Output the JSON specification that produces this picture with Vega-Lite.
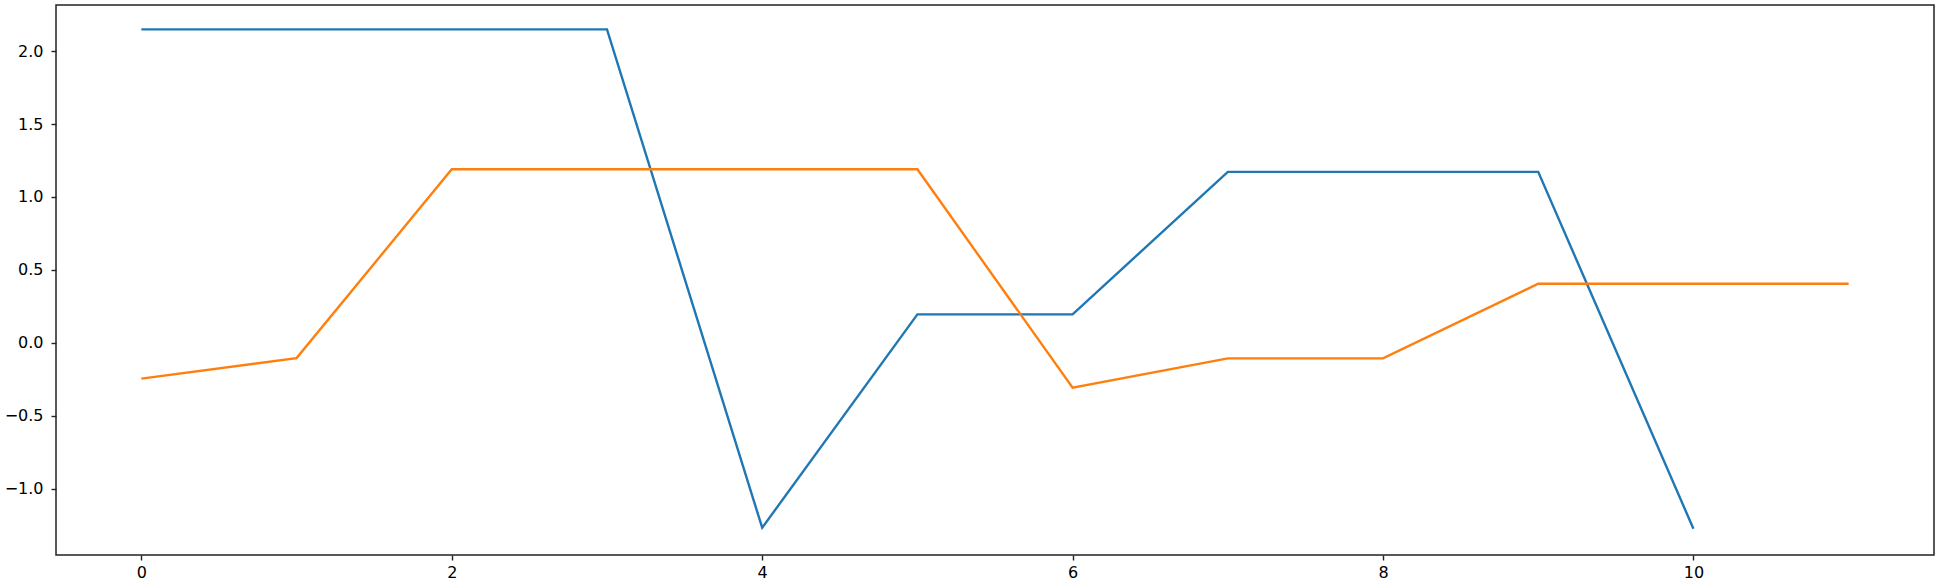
{
  "$schema": "https://vega.github.io/schema/vega-lite/v6.json",
  "width": 1878,
  "height": 550,
  "autosize": {"type": "none"},
  "padding": {"left": 56, "top": 5, "right": 6, "bottom": 29},
  "background": "white",
  "config": {
    "view": {"stroke": "#222222", "strokeWidth": 1.5},
    "font": "DejaVu Sans",
    "axis": {
      "grid": false,
      "domain": false,
      "tickColor": "#222222",
      "tickSize": 5,
      "tickWidth": 1.4,
      "labelFont": "DejaVu Sans",
      "labelFontSize": 16,
      "labelColor": "#000000",
      "title": null
    }
  },
  "data": {
    "values": [
      {"x": 0, "y": 2.149, "s": "a"},
      {"x": 1, "y": 2.149, "s": "a"},
      {"x": 2, "y": 2.149, "s": "a"},
      {"x": 3, "y": 2.149, "s": "a"},
      {"x": 4, "y": -1.268, "s": "a"},
      {"x": 5, "y": 0.195, "s": "a"},
      {"x": 6, "y": 0.195, "s": "a"},
      {"x": 7, "y": 1.172, "s": "a"},
      {"x": 8, "y": 1.172, "s": "a"},
      {"x": 9, "y": 1.172, "s": "a"},
      {"x": 10, "y": -1.275, "s": "a"},
      {"x": 0, "y": -0.246, "s": "b"},
      {"x": 1, "y": -0.105, "s": "b"},
      {"x": 2, "y": 1.19, "s": "b"},
      {"x": 3, "y": 1.19, "s": "b"},
      {"x": 4, "y": 1.19, "s": "b"},
      {"x": 5, "y": 1.19, "s": "b"},
      {"x": 6, "y": -0.308, "s": "b"},
      {"x": 7, "y": -0.107, "s": "b"},
      {"x": 8, "y": -0.107, "s": "b"},
      {"x": 9, "y": 0.405, "s": "b"},
      {"x": 10, "y": 0.405, "s": "b"},
      {"x": 11, "y": 0.405, "s": "b"}
    ]
  },
  "mark": {"type": "line", "strokeWidth": 2.4, "clip": true},
  "encoding": {
    "x": {
      "field": "x",
      "type": "quantitative",
      "scale": {"domain": [-0.55, 11.55], "nice": false, "zero": false},
      "axis": {"values": [0, 2, 4, 6, 8, 10], "format": "d", "labelPadding": 4}
    },
    "y": {
      "field": "y",
      "type": "quantitative",
      "scale": {"domain": [-1.455, 2.316], "nice": false, "zero": false},
      "axis": {"values": [-1.0, -0.5, 0.0, 0.5, 1.0, 1.5, 2.0], "format": ".1f", "labelPadding": 8}
    },
    "color": {
      "field": "s",
      "type": "nominal",
      "scale": {"domain": ["a", "b"], "range": ["#1f77b4", "#ff7f0e"]},
      "legend": null
    }
  }
}
